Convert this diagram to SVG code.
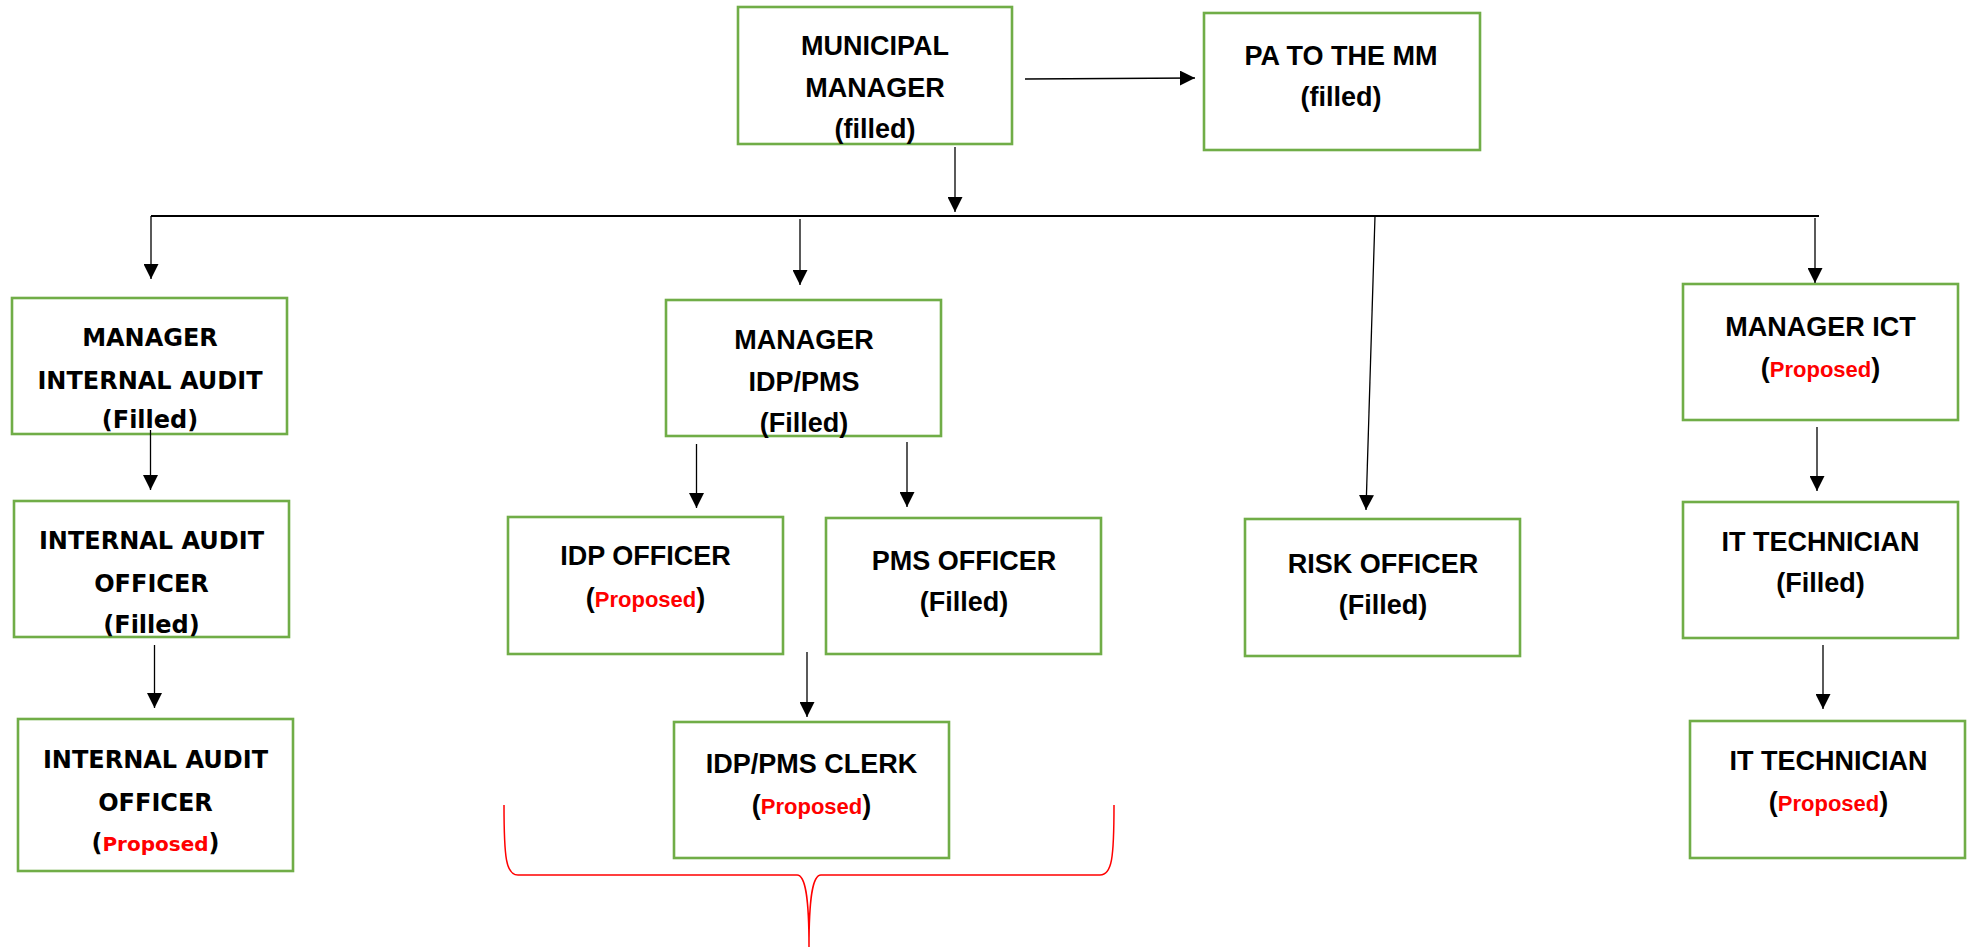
<svg xmlns="http://www.w3.org/2000/svg" width="1969" height="947" viewBox="0 0 1969 947">
  <style>
    .box { fill: none; stroke: #70AD47; stroke-width: 2.6; }
    .t { font-family: "Liberation Sans", Arial, sans-serif; font-weight: bold; font-size: 27px; fill: #000; text-anchor: middle; }
    .a { font-family: "DejaVu Sans", Verdana, sans-serif; font-weight: bold; font-size: 24px; fill: #000; text-anchor: middle; }
    .red { fill: #FF0000; font-size: 22px; }
    .a .red { font-size: 20px; }
    .ln { stroke: #000; stroke-width: 1.3; fill: none; }
    .arr { marker-end: url(#head); }
    .bar { stroke: #000; stroke-width: 1.8; fill: none; }
    .brace { stroke: #FF0000; stroke-width: 1.5; fill: none; }
  </style>
  <defs>
    <marker id="head" markerUnits="userSpaceOnUse" markerWidth="15" markerHeight="15" viewBox="0 0 15 15" refX="15" refY="7.5" orient="auto">
      <path d="M0,0 L15,7.5 L0,15 Z" fill="#000"/>
    </marker>
  </defs>

  <rect width="1969" height="947" fill="#fff"/>

  <!-- Municipal Manager -->
  <g id="node-mm">
    <rect class="box" x="738" y="7" width="274" height="137"/>
    <text class="t" x="875" y="55">MUNICIPAL</text>
    <text class="t" x="875" y="97">MANAGER</text>
    <text class="t" x="875" y="138">(filled)</text>
  </g>

  <!-- PA to the MM -->
  <g id="node-pa">
    <rect class="box" x="1204" y="13" width="276" height="137"/>
    <text class="t" x="1341" y="65">PA TO THE MM</text>
    <text class="t" x="1341" y="106">(filled)</text>
  </g>

  <!-- Internal audit branch -->
  <g id="node-mia">
    <rect class="box" x="12" y="298" width="275" height="136"/>
    <text class="a" x="150" y="346">MANAGER</text>
    <text class="a" x="150" y="389">INTERNAL AUDIT</text>
    <text class="a" x="150" y="428">(Filled)</text>
  </g>
  <g id="node-iao1">
    <rect class="box" x="14" y="501" width="275" height="136"/>
    <text class="a" x="151.5" y="549">INTERNAL AUDIT</text>
    <text class="a" x="151.5" y="592">OFFICER</text>
    <text class="a" x="151.5" y="633">(Filled)</text>
  </g>
  <g id="node-iao2">
    <rect class="box" x="18" y="719" width="275" height="152"/>
    <text class="a" x="155.5" y="768">INTERNAL AUDIT</text>
    <text class="a" x="155.5" y="811">OFFICER</text>
    <text class="a" x="155.5" y="851">(<tspan class="red">Proposed</tspan>)</text>
  </g>

  <!-- IDP/PMS branch -->
  <g id="node-midp">
    <rect class="box" x="666" y="300" width="275" height="136"/>
    <text class="t" x="804" y="349">MANAGER</text>
    <text class="t" x="804" y="391">IDP/PMS</text>
    <text class="t" x="804" y="432">(Filled)</text>
  </g>
  <g id="node-idpo">
    <rect class="box" x="508" y="517" width="275" height="137"/>
    <text class="t" x="645.5" y="565">IDP OFFICER</text>
    <text class="t" x="645.5" y="607">(<tspan class="red">Proposed</tspan>)</text>
  </g>
  <g id="node-pmso">
    <rect class="box" x="826" y="518" width="275" height="136"/>
    <text class="t" x="964" y="570">PMS OFFICER</text>
    <text class="t" x="964" y="611">(Filled)</text>
  </g>
  <g id="node-clerk">
    <rect class="box" x="674" y="722" width="275" height="136"/>
    <text class="t" x="811.5" y="773">IDP/PMS CLERK</text>
    <text class="t" x="811.5" y="814">(<tspan class="red">Proposed</tspan>)</text>
  </g>

  <!-- Risk -->
  <g id="node-risk">
    <rect class="box" x="1245" y="519" width="275" height="137"/>
    <text class="t" x="1383" y="573">RISK OFFICER</text>
    <text class="t" x="1383" y="614">(Filled)</text>
  </g>

  <!-- ICT branch -->
  <g id="node-ict">
    <rect class="box" x="1683" y="284" width="275" height="136"/>
    <text class="t" x="1820.5" y="336">MANAGER ICT</text>
    <text class="t" x="1820.5" y="377">(<tspan class="red">Proposed</tspan>)</text>
  </g>
  <g id="node-it1">
    <rect class="box" x="1683" y="502" width="275" height="136"/>
    <text class="t" x="1820.5" y="551">IT TECHNICIAN</text>
    <text class="t" x="1820.5" y="592">(Filled)</text>
  </g>
  <g id="node-it2">
    <rect class="box" x="1690" y="721" width="275" height="137"/>
    <text class="t" x="1828.5" y="770">IT TECHNICIAN</text>
    <text class="t" x="1828.5" y="811">(<tspan class="red">Proposed</tspan>)</text>
  </g>

  <!-- Reporting lines -->
  <g id="connectors">
    <line class="ln arr" x1="1025" y1="79" x2="1195" y2="78"/>
    <line class="ln arr" x1="955" y1="147" x2="955" y2="212"/>
    <line class="bar" x1="151" y1="216" x2="1819" y2="216"/>
    <line class="ln arr" x1="151" y1="216" x2="151" y2="279"/>
    <line class="ln arr" x1="800" y1="219" x2="800" y2="285"/>
    <line class="ln arr" x1="1375" y1="216" x2="1366" y2="510"/>
    <line class="ln arr" x1="1815" y1="218" x2="1815" y2="283"/>
    <line class="ln arr" x1="150.5" y1="430" x2="150.5" y2="490"/>
    <line class="ln arr" x1="154.5" y1="645" x2="154.5" y2="708"/>
    <line class="ln arr" x1="696.5" y1="444" x2="696.5" y2="508"/>
    <line class="ln arr" x1="907" y1="442" x2="907" y2="507"/>
    <line class="ln arr" x1="807" y1="652" x2="807" y2="717"/>
    <line class="ln arr" x1="1817" y1="427" x2="1817" y2="491"/>
    <line class="ln arr" x1="1823" y1="645" x2="1823" y2="709"/>
  </g>

  <!-- Brace grouping the IDP/PMS section -->
  <path class="brace" d="M504,805 C504,858 506,875 518,875 L797,875 C805,875 809,895 809,947 M809,947 C809,895 813,875 821,875 L1100,875 C1112,875 1114,858 1114,805"/>
</svg>
